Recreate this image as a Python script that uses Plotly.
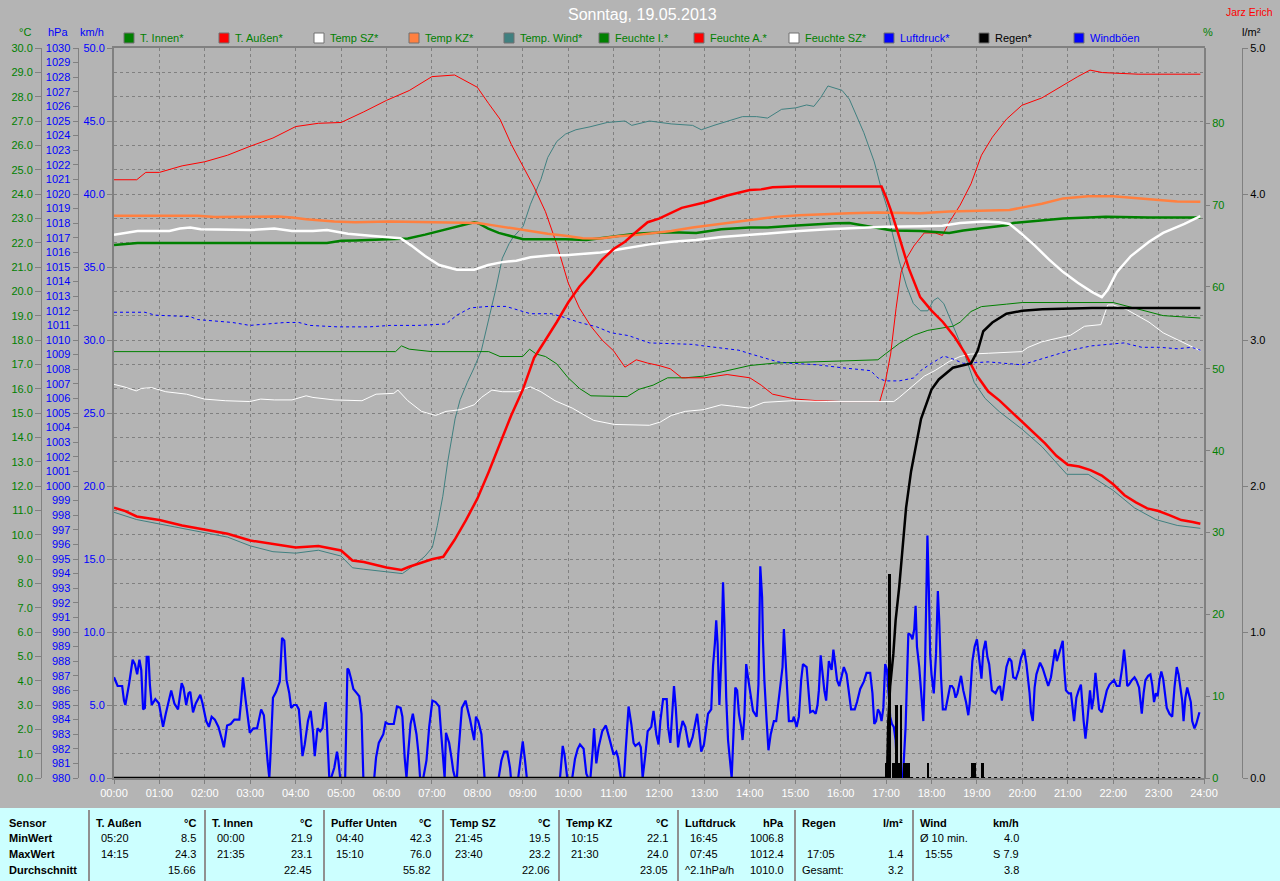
import plotly.graph_objects as go

# ---------------- data (hours since 00:00) ----------------
HOURS = list(range(25))
HOUR_LABELS = [f"{h:02d}:00" for h in HOURS]

T_INNEN_H = [0, 0.22, 0.52, 4.69, 5.0, 5.31, 6.31, 6.47, 6.85, 7.24,
             7.62, 7.93, 8.01, 8.24, 8.47, 8.78, 9.01, 9.94, 10.40, 10.71,
             11.10, 11.48, 11.79, 12.27, 12.82, 13.37, 13.99, 14.39, 14.94, 15.49,
             15.88, 16.19, 16.51, 16.82, 17.13, 17.76, 18.08, 18.39, 18.70, 19.17,
             19.65, 19.80, 20.43, 20.90, 21.84, 22.79, 23.92]
T_INNEN = [21.90, 21.93, 21.99, 21.99, 22.08, 22.09, 22.17, 22.17, 22.33, 22.52,
           22.72, 22.84, 22.81, 22.58, 22.40, 22.26, 22.14, 22.14, 22.11, 22.18,
           22.28, 22.37, 22.40, 22.43, 22.40, 22.55, 22.62, 22.62, 22.70, 22.77,
           22.80, 22.81, 22.70, 22.62, 22.50, 22.48, 22.43, 22.40, 22.50, 22.62,
           22.72, 22.81, 22.90, 22.99, 23.06, 23.03, 23.03]

T_AUSSEN_H = [0, 0.25, 0.5, 1, 1.5, 2, 2.5, 3, 3.5, 4,
              4.5, 5, 5.25, 5.5, 6, 6.33, 6.5, 7, 7.25, 7.5,
              7.75, 8, 8.25, 8.5, 8.75, 9, 9.25, 9.5, 9.75, 10,
              10.25, 10.5, 10.75, 11, 11.25, 11.5, 11.75, 12, 12.5, 13,
              13.5, 14, 14.25, 14.5, 15, 16, 16.9, 17, 17.1, 17.25,
              17.5, 17.75, 18, 18.25, 18.5, 18.75, 19, 19.25, 19.5, 19.75,
              20, 20.25, 20.5, 20.75, 21, 21.25, 21.5, 21.75, 22, 22.25,
              22.5, 22.75, 23, 23.25, 23.5, 23.75, 23.92]
T_AUSSEN = [11.11, 10.97, 10.75, 10.60, 10.38, 10.20, 10.04, 9.76, 9.62, 9.47,
            9.53, 9.35, 8.94, 8.88, 8.65, 8.55, 8.68, 8.99, 9.09, 9.79,
            10.60, 11.48, 12.58, 13.75, 14.92, 15.95, 17.27, 18.00, 18.74, 19.54,
            20.20, 20.72, 21.30, 21.74, 22.04, 22.45, 22.84, 22.99, 23.43, 23.65,
            23.94, 24.16, 24.19, 24.28, 24.31, 24.31, 24.31, 23.87, 23.36, 22.47,
            20.94, 19.76, 19.21, 18.74, 18.15, 17.42, 16.54, 15.88, 15.51, 15.07,
            14.63, 14.19, 13.75, 13.24, 12.87, 12.80, 12.65, 12.43, 12.07, 11.62,
            11.33, 11.08, 10.97, 10.79, 10.60, 10.52, 10.45]

TEMP_SZ_H = [0, 0.22, 0.52, 1.22, 1.45, 1.68, 1.91, 2.99, 3.53, 3.92,
             4.38, 4.69, 5.15, 5.77, 6.31, 6.54, 6.85, 7.16, 7.55, 7.93,
             8.24, 8.55, 8.86, 9.17, 9.63, 9.94, 10.71, 11.17, 11.79, 12.27,
             12.82, 13.37, 13.99, 14.55, 15.09, 15.72, 16.51, 16.98, 17.76, 18.24,
             18.63, 19.17, 19.49, 19.72, 19.96, 20.27, 20.59, 20.90, 21.22, 21.53,
             21.75, 21.88, 22.08, 22.39, 22.79, 23.10, 23.57, 23.92]
TEMP_SZ = [22.33, 22.40, 22.48, 22.48, 22.58, 22.62, 22.55, 22.52, 22.58, 22.48,
           22.48, 22.52, 22.37, 22.26, 22.18, 21.89, 21.45, 21.08, 20.89, 20.89,
           21.08, 21.20, 21.26, 21.40, 21.48, 21.48, 21.60, 21.74, 21.93, 22.04,
           22.11, 22.23, 22.33, 22.40, 22.48, 22.55, 22.62, 22.65, 22.67, 22.70,
           22.81, 22.87, 22.84, 22.77, 22.40, 21.89, 21.30, 20.79, 20.35, 19.98,
           19.76, 20.06, 20.79, 21.45, 22.04, 22.40, 22.77, 23.09]

TEMP_KZ_H = [0, 1.84, 2.22, 2.99, 3.61, 3.92, 4.23, 4.85, 5.31, 6.08,
             6.85, 7.62, 8.01, 8.39, 8.78, 9.17, 9.55, 9.94, 10.32, 10.71,
             11.10, 11.48, 11.79, 12.27, 12.74, 13.37, 13.99, 14.55, 15.09, 15.72,
             16.19, 16.82, 17.29, 17.76, 18.39, 18.86, 19.72, 20.04, 20.43, 20.90,
             21.45, 22.00, 22.47, 22.94, 23.41, 23.92]
TEMP_KZ = [23.11, 23.11, 23.05, 23.05, 23.08, 23.03, 22.96, 22.87, 22.84, 22.87,
           22.84, 22.81, 22.81, 22.70, 22.58, 22.48, 22.37, 22.28, 22.18, 22.17,
           22.26, 22.31, 22.37, 22.48, 22.62, 22.77, 22.91, 23.06, 23.13, 23.19,
           23.21, 23.24, 23.21, 23.21, 23.28, 23.31, 23.34, 23.46, 23.60, 23.82,
           23.91, 23.91, 23.84, 23.75, 23.69, 23.68]

# "Temp. Wind" curve (Puffer Unten, deg C, drawn on its own hidden scale)
PUFFER_H = [0, 0.5, 1, 1.5, 2, 2.5, 3, 3.5, 4, 4.5,
            5, 5.25, 5.5, 6, 6.35, 6.62, 6.85, 7.01, 7.12, 7.24,
            7.35, 7.51, 7.62, 7.78, 7.93, 8.09, 8.24, 8.40, 8.55, 8.70,
            8.78, 9.01, 9.17, 9.40, 9.55, 9.75, 9.94, 10.17, 10.48, 10.86,
            11.25, 11.40, 11.79, 12.27, 12.74, 12.93, 13.21, 13.52, 13.84, 14.15,
            14.39, 14.70, 15.01, 15.25, 15.41, 15.56, 15.72, 16.03, 16.19, 16.51,
            16.74, 16.90, 17.02, 17.14, 17.29, 17.45, 17.60, 17.76, 17.92, 18.04,
            18.14, 18.27, 18.47, 18.70, 18.94, 19.18, 19.49, 19.99, 20.43, 20.98,
            21.45, 22.00, 22.47, 22.94, 23.41, 23.92]
PUFFER = [46.5, 46.0, 45.7, 45.4, 45.1, 44.8, 44.2, 43.8, 43.7, 43.9,
          43.5, 42.7, 42.6, 42.4, 42.3, 42.9, 43.5, 44.1, 45.6, 47.6,
          50.0, 52.9, 54.2, 55.4, 56.4, 57.6, 59.5, 61.7, 63.9, 64.9,
          65.3, 66.1, 67.6, 69.3, 70.8, 71.9, 72.4, 72.7, 72.9, 73.2,
          73.3, 73.0, 73.3, 73.1, 73.0, 72.7, 73.0, 73.3, 73.6, 73.6,
          73.5, 74.1, 74.2, 74.4, 74.3, 74.9, 75.7, 75.4, 74.8, 72.5,
          70.5, 68.6, 67.4, 65.6, 63.7, 62.0, 60.8, 60.3, 60.3, 61.0,
          61.2, 60.8, 59.3, 57.6, 55.4, 54.3, 53.4, 52.2, 51.0, 49.1,
          49.1, 48.0, 46.8, 46.0, 45.6, 45.4]

FEUCHTE_I_H = [0, 6.2, 6.33, 6.5, 7, 8.25, 8.5, 9, 9.15, 9.3,
               9.5, 9.75, 10, 10.25, 10.5, 11, 11.3, 11.56, 11.87, 12.19,
               12.58, 12.97, 13.37, 14.0, 14.55, 15.72, 16.82, 16.98, 17.29, 17.61,
               17.92, 18.47, 18.63, 18.87, 19.1, 19.65, 20.0, 22.0, 22.79, 23.1,
               23.92]
FEUCHTE_I = [52.1, 52.1, 52.8, 52.4, 52.1, 52.1, 51.5, 51.5, 52.4, 51.8,
             51.5, 50.6, 48.9, 47.6, 46.7, 46.6, 46.6, 47.5, 48.0, 48.9,
             48.9, 49.1, 49.6, 50.4, 50.7, 50.9, 51.1, 51.8, 53.1, 54.1,
             54.7, 55.2, 55.7, 57.0, 57.6, 57.9, 58.1, 58.1, 57.0, 56.5,
             56.2]

FEUCHTE_A_H = [0, 0.5, 0.7, 1, 1.5, 2, 2.5, 3, 3.5, 4,
               4.5, 5, 5.5, 6, 6.5, 7, 7.5, 7.75, 8, 8.25,
               8.5, 8.75, 9, 9.25, 9.5, 9.75, 10, 10.25, 10.5, 10.75,
               11, 11.25, 11.5, 11.75, 12, 12.25, 12.5, 13, 13.5, 14,
               14.25, 14.5, 15, 15.5, 16, 16.5, 16.86, 16.98, 17.10, 17.22,
               17.33, 17.45, 17.61, 17.84, 18.08, 18.24, 18.39, 18.63, 18.87, 19.10,
               19.34, 19.65, 19.99, 20.43, 20.82, 21.22, 21.49, 21.76, 22.55, 23.92]
FEUCHTE_A = [73.1, 73.1, 74.0, 74.0, 74.8, 75.3, 76.1, 77.2, 78.2, 79.6,
             80.0, 80.1, 81.4, 82.8, 84.0, 85.7, 85.9, 85.2, 84.4, 82.4,
             80.5, 77.4, 74.8, 72.2, 69.2, 65.2, 60.5, 57.4, 55.2, 53.5,
             52.2, 50.2, 51.1, 50.7, 50.4, 50.0, 48.9, 48.9, 49.3, 48.9,
             48.0, 46.9, 46.3, 46.1, 46.0, 46.0, 46.0, 48.3, 51.8, 57.4,
             61.8, 63.5, 65.0, 66.6, 66.6, 66.3, 67.9, 70.0, 72.6, 76.1,
             78.3, 80.5, 82.2, 83.1, 84.4, 85.7, 86.5, 86.2, 86.0, 86.0]

FEUCHTE_SZ_H = [0, 0.22, 0.49, 0.60, 0.83, 1.14, 1.60, 1.99, 2.45, 2.99,
                3.23, 3.53, 3.92, 4.23, 4.38, 4.85, 5.46, 5.77, 6.16, 6.25,
                6.47, 6.77, 7.08, 7.31, 7.62, 7.93, 8.09, 8.32, 8.55, 8.86,
                9.17, 9.40, 9.71, 10.09, 10.56, 11.02, 11.79, 12.03, 12.27, 12.58,
                12.97, 13.37, 13.68, 13.99, 14.31, 14.94, 15.72, 17.17, 17.29, 17.53,
                17.84, 18.08, 18.39, 18.63, 18.86, 19.25, 19.99, 20.12, 20.43, 20.74,
                21.06, 21.37, 21.73, 21.88, 22.00, 22.31, 22.79, 23.10, 23.57, 23.92]
FEUCHTE_SZ = [48.1, 47.8, 47.3, 47.6, 47.7, 47.2, 46.9, 46.3, 46.1, 46.0,
              46.3, 46.2, 46.2, 46.7, 46.5, 46.2, 46.1, 46.9, 47.0, 47.4,
              46.1, 44.8, 44.3, 44.8, 45.0, 45.6, 46.5, 47.4, 47.2, 47.2,
              47.8, 47.2, 46.1, 45.2, 43.7, 43.2, 43.1, 43.5, 44.3, 44.8,
              45.0, 45.6, 45.4, 45.2, 45.9, 46.1, 46.0, 46.0, 46.5, 47.6,
              49.1, 49.8, 50.9, 51.5, 51.8, 51.9, 52.1, 52.6, 53.3, 53.7,
              54.1, 55.2, 55.4, 57.8, 57.8, 57.2, 55.7, 54.4, 53.1, 52.2]

LUFTDRUCK_H = [0, 0.68, 0.91, 1.68, 1.84, 2.61, 2.99, 3.38, 3.77, 4.07,
               4.31, 4.92, 5.62, 6.08, 6.70, 7.31, 7.55, 7.85, 8.24, 8.63,
               8.94, 9.17, 9.63, 9.86, 10.25, 10.63, 10.94, 11.33, 11.79, 12.74,
               12.97, 13.76, 14.07, 14.62, 14.94, 15.49, 16.03, 16.66, 16.82, 16.98,
               17.29, 17.61, 17.76, 18.00, 18.27, 18.47, 18.70, 19.25, 19.99, 20.43,
               20.74, 21.06, 21.53, 22.00, 22.24, 22.63, 23.02, 23.41, 23.73, 23.92]
LUFTDRUCK = [1011.9, 1011.9, 1011.7, 1011.6, 1011.4, 1011.2, 1011.0, 1011.1, 1011.2, 1011.2,
             1011.0, 1010.9, 1010.9, 1011.0, 1011.0, 1011.1, 1011.7, 1012.2, 1012.3, 1012.3,
             1012.0, 1011.8, 1011.8, 1011.6, 1011.2, 1010.9, 1010.5, 1010.3, 1009.8, 1009.7,
             1009.6, 1009.3, 1009.0, 1008.5, 1008.4, 1008.3, 1008.1, 1007.9, 1007.4, 1007.2,
             1007.2, 1007.4, 1007.9, 1008.4, 1008.9, 1008.7, 1008.4, 1008.5, 1008.3, 1008.7,
             1009.0, 1009.3, 1009.6, 1009.7, 1009.8, 1009.5, 1009.5, 1009.4, 1009.5, 1009.3]

REGEN_H = [0, 17.02, 17.05, 17.09, 17.16, 17.21, 17.29, 17.37, 17.44, 17.55,
           17.65, 17.77, 18.0, 18.16, 18.47, 18.87, 19.02, 19.14, 19.34, 19.65,
           20.0, 20.44, 21.54, 23.92]
REGEN = [0, 0, 0.40, 0.63, 0.85, 1.08, 1.31, 1.58, 1.85, 2.10,
         2.27, 2.46, 2.66, 2.73, 2.81, 2.84, 2.93, 3.06, 3.12, 3.18,
         3.20, 3.21, 3.22, 3.22]

RAIN_RATE_H = [17.00, 17.08, 17.17, 17.23, 17.28, 17.33, 17.40, 17.46, 17.50, 17.92,
               18.90, 18.95, 19.13]
RAIN_RATE = [0.1, 1.4, 0.1, 0.5, 0.1, 0.5, 0.1, 0.1, 0.1, 0.1,
             0.1, 0.1, 0.1]

WIND_H = [0.00, 0.08, 0.18, 0.22, 0.25, 0.33, 0.41, 0.46, 0.51, 0.56,
          0.60, 0.64, 0.68, 0.72, 0.76, 0.79, 0.83, 0.91, 0.99, 1.03,
          1.08, 1.14, 1.22, 1.26, 1.33, 1.41, 1.49, 1.53, 1.59, 1.64,
          1.68, 1.74, 1.80, 1.90, 1.95, 2.03, 2.09, 2.15, 2.22, 2.30,
          2.38, 2.42, 2.49, 2.57, 2.65, 2.76, 2.80, 2.84, 2.90, 2.99,
          3.07, 3.15, 3.24, 3.30, 3.38, 3.42, 3.44, 3.50, 3.57, 3.65,
          3.70, 3.75, 3.80, 3.86, 3.90, 3.96, 4.02, 4.07, 4.11, 4.15,
          4.20, 4.27, 4.33, 4.38, 4.42, 4.48, 4.54, 4.59, 4.63, 4.66,
          4.69, 4.74, 4.78, 4.85, 4.91, 4.94, 4.98, 5.09, 5.14, 5.17,
          5.22, 5.27, 5.35, 5.40, 5.45, 5.49, 5.73, 5.77, 5.83, 5.93,
          5.98, 6.04, 6.16, 6.23, 6.31, 6.35, 6.40, 6.44, 6.47, 6.53,
          6.58, 6.66, 6.70, 6.74, 6.81, 6.88, 6.94, 7.01, 7.08, 7.16,
          7.20, 7.25, 7.28, 7.31, 7.38, 7.43, 7.47, 7.51, 7.55, 7.58,
          7.62, 7.66, 7.74, 7.78, 7.84, 7.89, 7.93, 7.97, 8.02, 8.09,
          8.12, 8.16, 8.47, 8.53, 8.59, 8.66, 8.72, 8.74, 8.90, 8.95,
          9.00, 9.05, 9.09, 9.82, 9.88, 9.92, 9.98, 10.09, 10.15, 10.21,
          10.26, 10.34, 10.40, 10.44, 10.49, 10.54, 10.57, 10.62, 10.67, 10.75,
          10.83, 10.90, 10.96, 11.00, 11.06, 11.10, 11.16, 11.23, 11.27, 11.33,
          11.39, 11.44, 11.48, 11.56, 11.60, 11.64, 11.70, 11.75, 11.83, 11.88,
          11.94, 11.99, 12.03, 12.09, 12.17, 12.20, 12.25, 12.29, 12.33, 12.37,
          12.42, 12.46, 12.52, 12.58, 12.66, 12.74, 12.80, 12.84, 12.89, 12.93,
          12.99, 13.04, 13.08, 13.15, 13.19, 13.23, 13.26, 13.29, 13.33, 13.37,
          13.41, 13.44, 13.48, 13.52, 13.56, 13.60, 13.64, 13.68, 13.72, 13.76,
          13.81, 13.84, 13.88, 13.92, 13.95, 14.01, 14.07, 14.15, 14.19, 14.23,
          14.27, 14.29, 14.32, 14.37, 14.41, 14.46, 14.53, 14.58, 14.66, 14.72,
          14.75, 14.78, 14.82, 14.86, 14.94, 14.97, 15.03, 15.08, 15.13, 15.17,
          15.25, 15.29, 15.33, 15.39, 15.45, 15.49, 15.52, 15.56, 15.60, 15.64,
          15.68, 15.74, 15.80, 15.84, 15.88, 15.92, 15.97, 16.03, 16.07, 16.13,
          16.18, 16.23, 16.31, 16.36, 16.43, 16.51, 16.57, 16.65, 16.70, 16.74,
          16.78, 16.82, 16.86, 16.90, 16.94, 16.98, 17.02, 17.05, 17.09, 17.13,
          17.17, 17.21, 17.25, 17.37, 17.43, 17.49, 17.54, 17.58, 17.62, 17.65,
          17.68, 17.73, 17.78, 17.82, 17.86, 17.89, 17.91, 17.94, 17.97, 18.00,
          18.05, 18.10, 18.14, 18.17, 18.21, 18.25, 18.31, 18.36, 18.41, 18.45,
          18.49, 18.53, 18.57, 18.61, 18.65, 18.70, 18.76, 18.81, 18.84, 18.90,
          18.95, 19.00, 19.06, 19.10, 19.14, 19.19, 19.23, 19.27, 19.33, 19.41,
          19.47, 19.51, 19.55, 19.61, 19.65, 19.71, 19.76, 19.80, 19.86, 19.92,
          19.97, 20.04, 20.09, 20.16, 20.19, 20.23, 20.27, 20.31, 20.39, 20.45,
          20.51, 20.57, 20.63, 20.67, 20.72, 20.76, 20.82, 20.89, 20.92, 20.96,
          21.02, 21.07, 21.14, 21.19, 21.24, 21.29, 21.35, 21.39, 21.43, 21.49,
          21.53, 21.57, 21.61, 21.65, 21.69, 21.75, 21.80, 21.86, 21.92, 21.98,
          22.02, 22.08, 22.14, 22.20, 22.24, 22.28, 22.31, 22.35, 22.41, 22.47,
          22.51, 22.57, 22.63, 22.67, 22.71, 22.77, 22.82, 22.86, 22.90, 22.94,
          22.98, 23.02, 23.06, 23.10, 23.14, 23.18, 23.24, 23.30, 23.35, 23.40,
          23.44, 23.48, 23.52, 23.55, 23.59, 23.63, 23.66, 23.71, 23.74, 23.79,
          23.83, 23.87, 23.90]
WIND = [6.9, 6.3, 6.3, 5.3, 5.0, 6.4, 8.1, 7.8, 7.1, 8.1,
        7.4, 4.7, 4.8, 8.3, 8.3, 6.4, 5.0, 5.4, 5.1, 4.4,
        3.5, 4.4, 5.5, 6.0, 5.1, 4.7, 6.5, 6.2, 5.0, 5.8,
        5.9, 4.5, 5.1, 5.7, 5.1, 3.9, 3.5, 4.2, 4.0, 3.5,
        2.6, 2.1, 3.6, 3.7, 4.0, 4.0, 5.3, 6.9, 5.3, 3.1,
        3.4, 3.4, 4.7, 4.3, 1.2, 0.0, 1.2, 5.5, 5.9, 6.6,
        9.6, 9.4, 6.7, 5.8, 4.8, 5.0, 5.0, 4.7, 3.2, 1.5,
        2.3, 3.9, 4.6, 3.2, 1.5, 3.4, 3.2, 3.4, 4.6, 5.2,
        3.5, 0.0, 0.0, 0.7, 1.8, 1.2, 0.0, 0.0, 7.5, 7.4,
        6.8, 6.1, 5.8, 5.6, 4.4, 0.0, 0.0, 1.4, 2.4, 3.0,
        3.8, 3.7, 3.7, 4.9, 4.8, 4.2, 1.4, 0.0, 1.4, 3.7,
        4.4, 3.0, 1.8, 0.0, 0.0, 1.2, 3.5, 5.3, 5.2, 4.9,
        3.2, 0.7, 0.0, 3.1, 2.4, 1.4, 0.5, 0.0, 0.0, 1.6,
        3.4, 4.8, 5.3, 4.8, 4.0, 3.2, 2.6, 4.2, 3.9, 3.0,
        1.6, 0.0, 0.0, 1.2, 1.8, 1.8, 0.7, 0.0, 0.0, 1.2,
        2.5, 1.2, 0.0, 0.0, 2.2, 1.6, 0.0, 0.0, 1.3, 2.0,
        2.3, 2.0, 0.3, 0.0, 0.0, 1.9, 3.4, 1.0, 2.1, 3.2,
        3.6, 2.8, 2.1, 1.6, 1.8, 1.4, 0.0, 0.0, 2.1, 4.9,
        3.7, 2.4, 2.2, 2.4, 2.1, 0.0, 1.6, 3.2, 3.5, 4.6,
        3.0, 2.3, 3.9, 5.4, 5.4, 3.5, 2.4, 4.8, 6.3, 4.8,
        2.1, 3.0, 3.9, 3.5, 2.1, 2.8, 3.7, 4.4, 3.0, 1.8,
        2.3, 3.5, 4.4, 4.7, 7.7, 9.2, 10.8, 9.2, 5.0, 8.0,
        13.4, 10.6, 5.5, 2.6, 1.5, 0.0, 3.0, 6.2, 6.0, 4.4,
        3.5, 2.6, 4.2, 7.8, 7.1, 6.0, 4.6, 4.2, 6.4, 14.5,
        12.4, 9.4, 6.7, 3.9, 1.9, 3.0, 3.9, 3.9, 5.8, 7.6,
        10.2, 8.5, 6.7, 3.9, 3.9, 4.2, 3.5, 4.2, 6.7, 7.8,
        7.6, 5.8, 4.5, 4.6, 4.4, 5.0, 6.0, 8.4, 6.9, 6.0,
        5.3, 8.0, 7.4, 8.8, 7.8, 6.7, 6.3, 7.1, 7.6, 7.1,
        6.0, 4.7, 4.7, 5.2, 6.1, 6.6, 7.2, 7.2, 5.8, 3.7,
        3.9, 4.7, 4.5, 3.9, 4.8, 7.8, 7.4, 5.8, 4.2, 3.7,
        3.5, 2.6, 0.0, 0.0, 3.5, 9.9, 9.8, 9.5, 10.2, 11.8,
        9.0, 7.6, 5.1, 3.9, 8.0, 13.1, 16.6, 13.1, 8.5, 7.1,
        5.8, 8.5, 12.8, 10.8, 6.9, 4.7, 4.7, 5.5, 6.3, 6.3,
        6.1, 5.5, 5.8, 6.4, 7.0, 6.0, 5.2, 4.3, 5.1, 8.0,
        9.0, 9.5, 7.8, 6.8, 8.7, 9.4, 8.3, 7.8, 6.0, 5.8,
        6.2, 6.3, 5.3, 6.7, 7.6, 8.2, 8.0, 6.9, 6.8, 7.4,
        8.2, 8.8, 7.8, 5.8, 4.5, 3.9, 6.2, 7.1, 7.9, 7.5,
        6.8, 6.3, 6.9, 7.8, 8.8, 8.0, 8.6, 9.4, 7.6, 6.0,
        5.8, 5.8, 3.9, 5.5, 6.0, 6.4, 3.9, 2.7, 3.9, 6.0,
        4.7, 5.5, 7.2, 5.8, 4.7, 4.5, 5.2, 6.0, 6.4, 6.6,
        6.7, 6.3, 6.3, 7.6, 8.8, 7.6, 6.3, 6.4, 6.7, 6.9,
        6.7, 6.2, 4.4, 5.8, 6.7, 7.0, 7.1, 6.4, 5.2, 5.8,
        5.6, 6.7, 7.3, 6.8, 5.8, 4.8, 4.4, 4.2, 6.2, 7.6,
        7.1, 6.2, 5.3, 3.9, 5.5, 6.2, 5.8, 5.2, 3.9, 3.4,
        3.7, 4.2, 4.5]

# legend entries: (label, marker colour, text colour)
LEGEND = [("T. Innen*", "#008000", "#008000"), ("T. Außen*", "#FF0000", "#008000"),
          ("Temp SZ*", "#FFFFFF", "#008000"), ("Temp KZ*", "#FF8040", "#008000"),
          ("Temp. Wind*", "#408080", "#008000"), ("Feuchte I.*", "#008000", "#008000"),
          ("Feuchte A.*", "#FF0000", "#008000"), ("Feuchte SZ*", "#FFFFFF", "#008000"),
          ("Luftdruck*", "#0000FF", "#0000FF"), ("Regen*", "#000000", "#000000"),
          ("Windböen", "#0000FF", "#0000FF")]

# summary table
ROW_LABELS = ["Sensor", "MinWert", "MaxWert", "Durchschnitt"]
TABLE_HEAD = [("T. Außen", "°C"), ("T. Innen", "°C"), ("Puffer Unten", "°C"),
              ("Temp SZ", "°C"), ("Temp KZ", "°C"), ("Luftdruck", "hPa"),
              ("Regen", "l/m²"), ("Wind", "km/h")]
TABLE_MIN = [("05:20", "8.5"), ("00:00", "21.9"), ("04:40", "42.3"), ("21:45", "19.5"),
             ("10:15", "22.1"), ("16:45", "1006.8"), ("", ""), ("Ø 10 min.", "4.0")]
TABLE_MAX = [("14:15", "24.3"), ("21:35", "23.1"), ("15:10", "76.0"), ("23:40", "23.2"),
             ("21:30", "24.0"), ("07:45", "1012.4"), ("17:05", "1.4"), ("15:55", "S 7.9")]
TABLE_AVG = [("", "15.66"), ("", "22.45"), ("", "55.82"), ("", "22.06"),
             ("", "23.05"), ("^2.1hPa/h", "1010.0"), ("Gesamt:", "3.2"), ("", "3.8")]

# ---------------- layout helpers ----------------
W, H = 1280, 881
MT, MB = 48, 103
PLOT_L, PLOT_R = 114, 1204
BG = "#B4B4B4"
GRID = "#808080"
GREEN = "#008000"
BLUE = "#0000FF"
FONT = "Liberation Sans, Arial, sans-serif"


def fx(xp):
    return xp / W


def fy(yp):
    return (H - MB - yp) / (H - MT - MB)


fig = go.Figure()


def line(xs, ys, axis, color, width, dash=None, name=""):
    fig.add_trace(go.Scatter(x=xs, y=ys, yaxis=axis, mode="lines", name=name,
                             line=dict(color=color, width=width, dash=dash),
                             hoverinfo="skip"))


# hidden scale for Puffer/Temp Wind
line(PUFFER_H, PUFFER, "y", "#408080", 1, name="Temp. Wind")
# humidity (%)
line(FEUCHTE_I_H, FEUCHTE_I, "y2", GREEN, 1, name="Feuchte I.")
line(FEUCHTE_A_H, FEUCHTE_A, "y2", "#FF0000", 1, name="Feuchte A.")
line(FEUCHTE_SZ_H, FEUCHTE_SZ, "y2", "#FFFFFF", 1, name="Feuchte SZ")
# pressure
line(LUFTDRUCK_H, LUFTDRUCK, "y3", BLUE, 1, dash="dot", name="Luftdruck")
# temperatures
line(T_INNEN_H, T_INNEN, "y4", GREEN, 2.5, name="T. Innen")
line(TEMP_KZ_H, TEMP_KZ, "y4", "#FF8040", 2.5, name="Temp KZ")
line(TEMP_SZ_H, TEMP_SZ, "y4", "#FFFFFF", 2.5, name="Temp SZ")
line(T_AUSSEN_H, T_AUSSEN, "y4", "#FF0000", 2.5, name="T. Außen")
# wind gusts
line(WIND_H, WIND, "y5", BLUE, 2.2, name="Windböen")
# rain
fig.add_trace(go.Bar(x=RAIN_RATE_H, y=RAIN_RATE, yaxis="y6", width=0.06,
                     marker=dict(color="#000000", line=dict(width=0)),
                     hoverinfo="skip", name="Regen rate"))
line([RAIN_RATE_H[0], T_AUSSEN_H[-1]], [0, 0], "y6", "#000000", 2, dash="dot")
line(REGEN_H, REGEN, "y6", "#000000", 2.5, name="Regen")

tickfont = lambda c: dict(family=FONT, size=11, color=c)

fig.update_layout(
    width=W, height=H,
    margin=dict(l=0, r=0, t=MT, b=MB, autoexpand=False),
    paper_bgcolor=BG, plot_bgcolor=BG, showlegend=False,
    font=dict(family=FONT, size=11),
    bargap=0,
    xaxis=dict(domain=[fx(PLOT_L), fx(PLOT_R)], range=[0, 24], tickmode="array",
               tickvals=HOURS, ticktext=HOUR_LABELS, tickfont=tickfont("white"),
               showgrid=True, gridcolor=GRID, griddash="dot", gridwidth=1,
               showline=True, mirror=True, linecolor=GRID, linewidth=2,
               ticks="outside", ticklen=4, tickcolor=GRID, zeroline=False,
               fixedrange=True),
    yaxis=dict(range=[28.3, 78.3], visible=False, fixedrange=True),
    yaxis2=dict(overlaying="y", anchor="x", side="right", range=[0, 89.2],
                tickmode="linear", tick0=0, dtick=10, tickfont=tickfont(GREEN),
                ticks="outside", ticklen=5, tickcolor=GRID, showline=True,
                linecolor=GRID, linewidth=1, showgrid=False, zeroline=False,
                fixedrange=True),
    yaxis3=dict(overlaying="y", anchor="free", position=fx(77.5), side="left",
                range=[980, 1030], tickmode="linear", tick0=980, dtick=1,
                tickfont=tickfont(BLUE), ticks="outside", ticklen=5, tickcolor=GRID,
                showline=True, linecolor=GRID, linewidth=1, showgrid=False,
                zeroline=False, fixedrange=True),
    yaxis4=dict(overlaying="y", anchor="free", position=fx(41), side="left",
                range=[0, 30], tickmode="linear", tick0=0, dtick=1, tickformat=".1f",
                tickfont=tickfont(GREEN), ticks="outside", ticklen=6, tickcolor=GRID,
                showline=True, linecolor=GRID, linewidth=1, showgrid=True,
                gridcolor=GRID, griddash="dot", gridwidth=1, zeroline=False,
                fixedrange=True),
    yaxis5=dict(overlaying="y", anchor="x", side="left", range=[0, 50],
                tickmode="linear", tick0=0, dtick=5, tickformat=".1f",
                tickfont=tickfont(BLUE), ticks="outside", ticklen=5, tickcolor=GRID,
                showline=True, mirror=True, linecolor=GRID, linewidth=2,
                showgrid=False, zeroline=False, fixedrange=True),
    yaxis6=dict(overlaying="y", anchor="free", position=fx(1242), side="right",
                range=[0, 5], tickmode="linear", tick0=0, dtick=1, tickformat=".1f",
                tickfont=tickfont("#000000"), ticks="outside", ticklen=5,
                tickcolor=GRID, showline=True, linecolor=GRID, linewidth=1,
                showgrid=False, zeroline=False, fixedrange=True),
)

ann = []
shapes = []


def text(x, y, s, color="#000000", size=11, anchor="left", bold=False):
    ann.append(dict(x=fx(x), y=fy(y), xref="paper", yref="paper", text=(f"<b>{s}</b>" if bold else s),
                    showarrow=False, xanchor=anchor, yanchor="middle",
                    font=dict(family=FONT, size=size, color=color)))


# title & author
text(642, 15, "Sonntag, 19.05.2013", "white", 16, "center")
text(1249, 12, "Jarz Erich", "#FF0000", 10.5, "center")
# axis unit labels
text(25, 32, "°C", GREEN, 11, "center")
text(58, 32, "hPa", BLUE, 11, "center")
text(92, 32, "km/h", BLUE, 11, "center")
text(1208, 32, "%", GREEN, 11, "center")
text(1251, 32, "l/m²", "#000000", 11, "center")

# legend row
for i, (lab, mcol, tcol) in enumerate(LEGEND):
    x0 = 124 + 95 * i
    shapes.append(dict(type="rect", xref="paper", yref="paper", x0=fx(x0), x1=fx(x0 + 10),
                       y0=fy(43), y1=fy(33), fillcolor=mcol,
                       line=dict(color="#707070", width=1)))
    text(x0 + 14, 38, lab, tcol, 11, "left")

# table background & separators
shapes.append(dict(type="rect", xref="paper", yref="paper", x0=0, x1=1, y0=fy(H), y1=fy(808),
                   fillcolor="#CCFFFF", line=dict(width=0), layer="below"))
COL_SEP = [89, 205, 324, 443, 559, 678, 795, 913]
VAL_RIGHT = [198, 314, 433, 552, 670, 786, 905, 1021]
ROW_Y = [823, 838, 854, 870]
for xs in COL_SEP:
    shapes.append(dict(type="line", xref="paper", yref="paper", x0=fx(xs), x1=fx(xs),
                       y0=fy(H), y1=fy(810), line=dict(color="#909090", width=2)))
for r, lab in enumerate(ROW_LABELS):
    text(7, ROW_Y[r], lab, bold=True)
for c, (head, unit) in enumerate(TABLE_HEAD):
    text(COL_SEP[c] + 5, ROW_Y[0], head, bold=True)
    text(VAL_RIGHT[c], ROW_Y[0], unit, anchor="right", bold=True)
    for r, rows in zip((1, 2, 3), (TABLE_MIN, TABLE_MAX, TABLE_AVG)):
        t, v = rows[c]
        if t:
            off = 10 if t[0].isdigit() else 5
            text(COL_SEP[c] + off, ROW_Y[r], t)
        if v:
            text(VAL_RIGHT[c], ROW_Y[r], v, anchor="right")

fig.update_layout(annotations=ann, shapes=shapes)
fig.write_html("out.html", config={"displayModeBar": False},
               post_script="document.body.style.margin='0px';document.body.style.overflow='hidden';")
